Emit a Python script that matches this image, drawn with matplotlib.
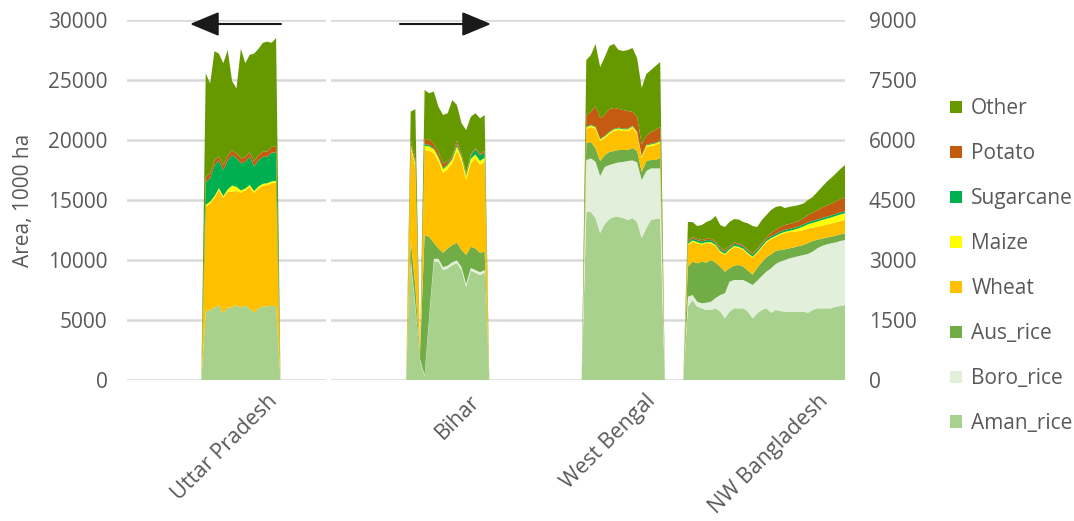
import numpy as np
import matplotlib
matplotlib.use("Agg")
import matplotlib.pyplot as plt
import matplotlib.transforms as mtransforms
from matplotlib.patches import Patch, FancyArrowPatch

plt.rcParams["font.family"] = ["Open Sans", "DejaVu Sans"]

# ---------------------------------------------------------------- data
crops = ["Aman_rice", "Boro_rice", "Aus_rice", "Wheat", "Maize",
         "Sugarcane", "Potato", "Other"]
colors = ["#A9D18E", "#E2EFDA", "#70AD47", "#FFC000", "#FFFF00",
          "#00B050", "#C55A11", "#669900"]
regions = ["Uttar Pradesh", "Bihar", "West Bengal", "NW Bangladesh"]

# Uttar Pradesh, 17 seasons (left axis, 1000 ha)
up_aman = [5700, 5830, 6030, 6220, 5560, 6050, 6030, 6220, 6030, 6190, 5970, 5610, 5970, 6110, 6140, 6170, 6170]
up_boro = [0, 0, 0, 0, 0, 0, 0, 0, 0, 0, 0, 0, 0, 0, 0, 0, 0]
up_aus = [0, 0, 0, 0, 0, 0, 0, 0, 0, 0, 0, 0, 0, 0, 0, 0, 0]
up_wheat = [8740, 8890, 9140, 9610, 9610, 9640, 9670, 9530, 9570, 9610, 10130, 9990, 10000, 10090, 10110, 10230, 10280]
up_maize = [150, 150, 150, 150, 150, 200, 500, 350, 200, 150, 150, 150, 150, 150, 150, 150, 150]
up_sugarcane = [1910, 1930, 2580, 2320, 2180, 2410, 2550, 2400, 2250, 2250, 2350, 2050, 2180, 2250, 2200, 2400, 2350]
up_potato = [400, 420, 380, 350, 400, 420, 400, 380, 420, 380, 400, 400, 430, 420, 450, 480, 500]
up_other = [8660, 7480, 9120, 8550, 8500, 8780, 5750, 5420, 9130, 7820, 8100, 9000, 8870, 9080, 9150, 8670, 9050]

# Bihar, 17 seasons (right axis, 1000 ha)
bh_aman = [2950, 1830, 500, 100, 1550, 2960, 2960, 2750, 2790, 2875, 2920, 2750, 2330, 2730, 2680, 2625, 2680]
bh_boro = [80, 60, 30, 30, 60, 70, 70, 70, 70, 70, 70, 70, 70, 70, 70, 70, 70]
bh_aus = [470, 440, 100, 3495, 1970, 400, 260, 360, 430, 430, 440, 430, 725, 530, 540, 485, 460]
bh_wheat = [2300, 3000, 20, 2125, 2150, 2240, 2170, 1990, 1980, 2045, 2300, 2210, 1875, 2090, 2250, 2195, 2250]
bh_maize = [60, 80, 5, 110, 110, 100, 100, 100, 100, 100, 110, 100, 100, 110, 100, 100, 100]
bh_sugarcane = [40, 40, 5, 40, 40, 30, 30, 30, 40, 40, 60, 40, 40, 80, 130, 140, 130]
bh_potato = [100, 100, 5, 130, 130, 100, 110, 110, 60, 40, 90, 40, 30, 30, 30, 40, 40]
bh_other = [710, 1220, 10, 1220, 1160, 1310, 1130, 1215, 1200, 1400, 885, 780, 1080, 940, 870, 885, 895]

# West Bengal, 17 seasons (right axis, 1000 ha)
wb_aman = [4200, 4200, 4050, 3675, 3900, 4025, 4075, 4075, 4050, 4000, 4050, 3950, 3550, 3800, 4000, 4025, 4025]
wb_boro = [1300, 1340, 1410, 1425, 1425, 1350, 1335, 1365, 1400, 1475, 1440, 1490, 1450, 1425, 1290, 1265, 1265]
wb_aus = [425, 410, 330, 375, 300, 325, 315, 310, 300, 275, 310, 285, 200, 250, 210, 210, 260]
wb_wheat = [350, 375, 485, 500, 425, 450, 500, 500, 475, 475, 500, 425, 350, 350, 350, 375, 375]
wb_maize = [40, 40, 40, 40, 40, 40, 40, 40, 40, 40, 40, 40, 40, 40, 40, 40, 40]
wb_sugarcane = [20, 20, 20, 20, 20, 20, 20, 20, 20, 20, 20, 20, 20, 20, 20, 20, 20]
wb_potato = [290, 315, 515, 515, 515, 565, 515, 465, 465, 440, 340, 365, 290, 215, 290, 315, 340]
wb_other = [1375, 1425, 1550, 1275, 1450, 1575, 1600, 1475, 1475, 1525, 1600, 1475, 1400, 1550, 1550, 1600, 1625]

# NW Bangladesh, 35 seasons (right axis, 1000 ha)
bd_aman = [1833, 2000, 1833, 1792, 1750, 1750, 1792, 1708, 1542, 1708, 1792, 1792, 1792, 1708, 1542, 1667, 1750,
           1792, 1683, 1750, 1725, 1708, 1708, 1708, 1708, 1708, 1683, 1750, 1792, 1792, 1792, 1792, 1833, 1850, 1875]
bd_boro = [250, 125, 125, 125, 183, 208, 258, 417, 625, 750, 708, 708, 708, 732, 833, 813, 850,
           918, 1109, 1150, 1235, 1292, 1334, 1362, 1392, 1417, 1467, 1460, 1500, 1558, 1598, 1625, 1607, 1625, 1625]
bd_aus = [750, 833, 959, 1041, 1000, 1042, 883, 708, 541, 334, 358, 375, 333, 293, 258, 328, 342,
          357, 350, 325, 290, 267, 250, 247, 250, 250, 275, 265, 216, 183, 168, 166, 168, 167, 167]
bd_wheat = [542, 500, 500, 425, 484, 417, 417, 359, 417, 441, 467, 425, 417, 409, 417, 359, 366,
            375, 375, 350, 383, 408, 408, 391, 375, 375, 358, 333, 325, 325, 325, 325, 334, 333, 333]
bd_maize = [30, 30, 30, 30, 30, 30, 30, 30, 30, 30, 30, 30, 30, 30, 30, 30, 30,
            30, 30, 30, 30, 30, 30, 50, 70, 90, 110, 120, 130, 140, 150, 155, 160, 165, 167]
bd_sugarcane = [50, 50, 50, 50, 50, 50, 50, 50, 50, 50, 50, 50, 50, 50, 50, 50, 50,
                50, 50, 50, 50, 50, 50, 50, 50, 50, 50, 50, 50, 50, 50, 50, 50, 50, 50]
bd_potato = [35, 35, 35, 35, 35, 35, 35, 35, 35, 35, 35, 35, 35, 35, 35, 35, 35,
             50, 80, 100, 110, 120, 120, 125, 130, 150, 180, 200, 230, 260, 280, 290, 310, 330, 340]
bd_other = [460, 377, 318, 377, 418, 468, 635, 568, 585, 602, 585, 595, 585, 658, 685, 543, 577,
            553, 573, 570, 527, 425, 430, 417, 400, 370, 377, 397, 457, 517, 587, 647, 698, 755, 818]

up = [up_aman, up_boro, up_aus, up_wheat, up_maize, up_sugarcane, up_potato, up_other]
bh = [bh_aman, bh_boro, bh_aus, bh_wheat, bh_maize, bh_sugarcane, bh_potato, bh_other]
wb = [wb_aman, wb_boro, wb_aus, wb_wheat, wb_maize, wb_sugarcane, wb_potato, wb_other]
bd = [bd_aman, bd_boro, bd_aus, bd_wheat, bd_maize, bd_sugarcane, bd_potato, bd_other]

# ---------------------------------------------------------------- layout
W, H = 1074, 521
fig = plt.figure(figsize=(W / 100, H / 100), dpi=100)
bottom, top = 380, 20
ax1 = fig.add_axes([127 / W, (H - bottom) / H, 199 / W, (bottom - top) / H])
ax2 = fig.add_axes([331 / W, (H - bottom) / H, 514 / W, (bottom - top) / H])

grid_c = "#D9D9D9"
text_c = "#595959"
fs = 15


def draw_region(ax, start, series):
    n = len(series[0])
    x = np.arange(start - 1, start + n + 1)
    ys = [np.concatenate([[0], np.asarray(s, float), [0]]) for s in series]
    ax.stackplot(x, ys, colors=colors, linewidth=0, antialiased=True)


draw_region(ax1, 0, up)
draw_region(ax2, 17, bh)
draw_region(ax2, 55, wb)
draw_region(ax2, 77, bd)

ax1.set_xlim(-17.9, 27.35)
ax2.set_xlim(-0.26, 111)
ax1.set_ylim(0, 30000)
ax2.set_ylim(0, 9000)
ax1.set_yticks(range(0, 30001, 5000))
ax2.set_yticks(range(0, 9001, 1500))
ax2.yaxis.tick_right()

for ax in (ax1, ax2):
    ax.set_xticks([])
    for s in ax.spines.values():
        s.set_visible(False)
    ax.yaxis.grid(True, color=grid_c, linewidth=1.8)
    ax.set_axisbelow(True)
    ax.tick_params(axis="y", length=0, labelsize=fs, labelcolor=text_c)
    ax.set_facecolor("none")

ax1.tick_params(axis="y", pad=14)
ax2.tick_params(axis="y", pad=17)
ax1.set_ylabel("Area, 1000 ha", fontsize=fs, color=text_c, labelpad=10)

# region names under the axis
label_pos = [(ax1, 14.0), (ax2, 29.7), (ax2, 67.7), (ax2, 105.1)]
for (ax, xp), name in zip(label_pos, regions):
    tr = mtransforms.blended_transform_factory(ax.transData, ax.transAxes)
    ax.text(xp, -0.03, name, transform=tr, rotation=45, ha="right", va="top",
            rotation_mode="anchor", fontsize=15.5, color=text_c)

# arrows pointing to the axis each block is read against
arrow_kw = dict(arrowstyle="-|>,head_length=1.2,head_width=0.5", color="#1a1a1a",
                lw=1.5, shrinkA=0, shrinkB=0, mutation_scale=15)
fig.add_artist(FancyArrowPatch((281 / W, (H - 24) / H), (190 / W, (H - 24) / H),
                               transform=fig.transFigure, **arrow_kw))
fig.add_artist(FancyArrowPatch((400 / W, (H - 24) / H), (491 / W, (H - 24) / H),
                               transform=fig.transFigure, **arrow_kw))

# legend, top entry = top layer
handles = [Patch(facecolor=c, edgecolor="none") for c in colors][::-1]
labels = crops[::-1]
fig.legend(handles, labels, loc="upper left", bbox_to_anchor=(940 / W, (H - 88) / H),
           frameon=False, fontsize=fs, labelcolor=text_c, handlelength=0.55,
           handleheight=0.55, handletextpad=0.45, labelspacing=1.15, borderpad=0)

fig.savefig("out.png", dpi=100)
